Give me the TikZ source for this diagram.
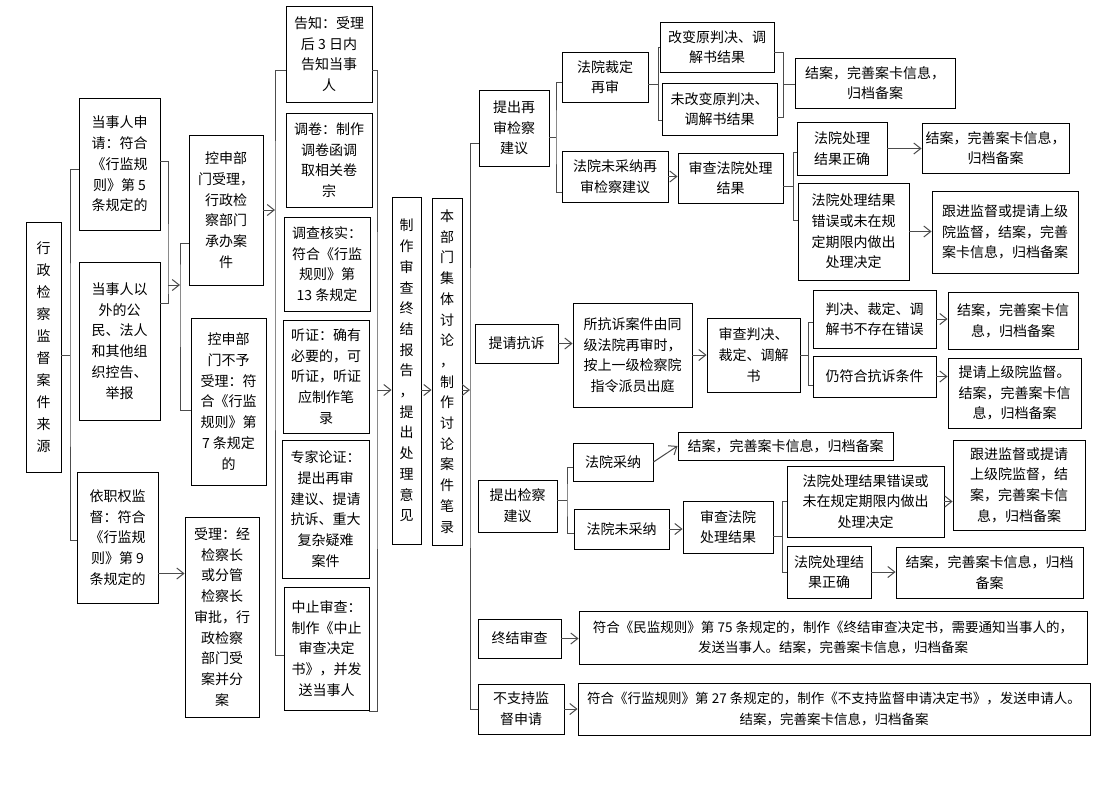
\documentclass[tikz,border=0pt]{standalone}
\usepackage{fontspec}
\setmainfont{Noto Sans CJK SC}
\usetikzlibrary{arrows.meta,calc}
\tikzset{
 bx/.style={draw=black,line width=0.9pt,fill=white,inner sep=0pt,align=center,font=\fontsize{14}{20.7}\selectfont},
 vbx/.style={bx,font=\fontsize{14}{22}\selectfont},
 wbx/.style={bx,font=\fontsize{13.5}{20.7}\selectfont},
 ln/.style={draw=black!70,line width=1pt},
 arr/.style={ln,-{Straight Barb[length=7pt,width=11pt]}},
}
\newcommand\mybox[7][bx]{\node[#1,minimum width=#5pt-#3pt,minimum height=#6pt-#4pt] (#2) at ({(#3+#5)/2},{(#4+#6)/2}) {#7};}
\begin{document}
\begin{tikzpicture}[x=1pt,y=-1pt]
\fill[white] (0,0) rectangle (1118,790);
\useasboundingbox (0,0) rectangle (1118,790);
% boxes
\mybox[vbx]{root}{26}{222}{61}{472}{行\\政\\检\\察\\监\\督\\案\\件\\来\\源}
\mybox{A1}{79}{98}{160}{230}{当事人申\\请：符合\\《行监规\\则》第 5\\条规定的}
\mybox{A2}{79}{262}{160}{420}{当事人以\\外的公\\民、法人\\和其他组\\织控告、\\举报}
\mybox{A3}{77}{472}{158}{603}{依职权监\\督：符合\\《行监规\\则》第 9\\条规定的}
\mybox{B1}{189}{135}{263}{285}{控申部\\门受理，\\行政检\\察部门\\承办案\\件}
\mybox{B2}{191}{318}{266}{485}{控申部\\门不予\\受理：符\\合《行监\\规则》第\\7 条规定\\的}
\mybox{B3}{185}{517}{259}{717}{受理：经\\检察长\\或分管\\检察长\\审批，行\\政检察\\部门受\\案并分\\案}
\mybox{C1}{286}{6}{372}{102}{告知：受理\\后 3 日内\\告知当事\\人}
\mybox{C2}{286}{113}{372}{207}{调卷：制作\\调卷函调\\取相关卷\\宗}
\mybox{C3}{284}{217}{370}{311}{调查核实：\\符合《行监\\规则》第\\13 条规定}
\mybox{C4}{283}{320}{369}{433}{听证：确有\\必要的，可\\听证，听证\\应制作笔\\录}
\mybox{C5}{282}{440}{369}{578}{专家论证：\\提出再审\\建议、提请\\抗诉、重大\\复杂疑难\\案件}
\mybox{C6}{284}{587}{369}{710}{中止审查：\\制作《中止\\审查决定\\书》，并发\\送当事人}
\mybox{D1}{392}{197}{421}{544}{制\\作\\审\\查\\终\\结\\报\\告\\，\\提\\出\\处\\理\\意\\见}
\mybox{E1}{432}{198}{462}{545}{本\\部\\门\\集\\体\\讨\\论\\，\\制\\作\\讨\\论\\案\\件\\笔\\录}
\mybox{F1}{479}{90}{549}{166}{提出再\\审检察\\建议}
\mybox{F2}{475}{324}{558}{363}{提请抗诉}
\mybox{F3}{478}{480}{557}{532}{提出检察\\建议}
\mybox{F4}{478}{619}{561}{658}{终结审查}
\mybox{F5}{478}{684}{564}{734}{不支持监\\督申请}
\mybox{G1}{562}{52}{648}{102}{法院裁定\\再审}
\mybox{G2}{562}{151}{668}{202}{法院未采纳再\\审检察建议}
\mybox{H1}{660}{22}{774}{72}{改变原判决、调\\解书结果}
\mybox{H2}{662}{83}{777}{135}{未改变原判决、\\调解书结果}
\mybox{I1}{795}{58}{955}{108}{结案，完善案卡信息，\\归档备案}
\mybox{H3}{678}{153}{783}{203}{审查法院处理\\结果}
\mybox{I2}{797}{122}{887}{175}{法院处理\\结果正确}
\mybox{I3}{798}{183}{909}{280}{法院处理结果\\错误或未在规\\定期限内做出\\处理决定}
\mybox{J2}{922}{123}{1069}{173}{结案，完善案卡信息，\\归档备案}
\mybox{J3}{932}{191}{1078}{273}{跟进监督或提请上级\\院监督，结案，完善\\案卡信息，归档备案}
\mybox{G3}{573}{303}{692}{407}{所抗诉案件由同\\级法院再审时，\\按上一级检察院\\指令派员出庭}
\mybox{H4}{707}{318}{800}{392}{审查判决、\\裁定、调解\\书}
\mybox{I4}{813}{290}{936}{348}{判决、裁定、调\\解书不存在错误}
\mybox{I5}{813}{356}{936}{397}{仍符合抗诉条件}
\mybox{J4}{948}{292}{1078}{349}{结案，完善案卡信\\息，归档备案}
\mybox{J5}{948}{358}{1081}{428}{提请上级院监督。\\结案，完善案卡信\\息，归档备案}
\mybox{G4}{573}{443}{653}{481}{法院采纳}
\mybox{G5}{574}{509}{669}{549}{法院未采纳}
\mybox{H5}{678}{432}{893}{460}{结案，完善案卡信息，归档备案}
\mybox{H6}{683}{501}{773}{553}{审查法院\\处理结果}
\mybox{I6}{787}{466}{944}{537}{法院处理结果错误或\\未在规定期限内做出\\处理决定}
\mybox{I7}{787}{546}{871}{598}{法院处理结\\果正确}
\mybox{J6}{953}{440}{1085}{530}{跟进监督或提请\\上级院监督，结\\案，完善案卡信\\息，归档备案}
\mybox{J7}{896}{547}{1083}{598}{结案，完善案卡信息，归档\\备案}
\mybox[wbx]{G6}{579}{611}{1087}{664}{符合《民监规则》第 75 条规定的，制作《终结审查决定书，需要通知当事人的，\\发送当事人。结案，完善案卡信息，归档备案}
\mybox[wbx]{G7}{578}{683}{1090}{735}{符合《行监规则》第 27 条规定的，制作《不支持监督申请决定书》，发送申请人。\\结案，完善案卡信息，归档备案}
% joints
\coordinate (k1) at (70,355);
\coordinate (k2) at (168,285);
\coordinate (k3) at (180,285);
\coordinate (k4) at (275,210);
\coordinate (k5) at (377,390);
\coordinate (k6) at (470,390);
\coordinate (k7) at (556,137);
\coordinate (k8) at (658,84);
\coordinate (k9) at (783,84);
\coordinate (k10) at (793,186);
\coordinate (k11) at (808,355);
\coordinate (k12) at (567,500);
\coordinate (k13) at (782,536);
\coordinate (a3o) at ([yshift=-36pt]A3.east);
% connectors
\draw[ln] ([yshift=-8pt]root.east) -- (k1);
\draw[ln] ([yshift=-5pt]A1.west) -| (k1) |- ([yshift=-2.5pt]A3.west);
\draw[ln] ([yshift=3pt]A1.east) -| (k2) |- ([yshift=38pt]A2.east);
\draw[arr] (k2) -- (k3);
\draw[ln] ([yshift=-33pt]B1.west) -| (k3) |- ([yshift=-8.5pt]B2.west);
\draw[arr] (a3o) -- (a3o -| B3.west);
\draw[arr] (B1.east) -- (k4);
\draw[ln] ([yshift=-16pt]C1.west) -| (k4) |- ([yshift=-6.5pt]C6.west);
\draw[ln] ([yshift=-16pt]C1.east) -| (k5) |- ([yshift=-63pt]C6.east);
\draw[arr] (k5) -- (k5 -| D1.west);
\draw[arr] (k5 -| D1.east) -- (k5 -| E1.west);
\draw[arr] (k5 -| E1.east) -- (k6);
\draw[ln] ([yshift=-15pt]F1.west) -| (k6) |- (F5.west);
\draw[ln] ([yshift=-9pt]F1.east) -- (k7);
\draw[ln] ([yshift=-5pt]G1.west) -| (k7) |- ([yshift=-15.5pt]G2.west);
\draw[ln] ([yshift=-7pt]G1.east) -- (k8);
\draw[ln] (H1.west) -| (k8) |- ([yshift=-11pt]H2.west);
\draw[ln] ([yshift=-5pt]H1.east) -| (k9) |- ([yshift=-8pt]H2.east);
\draw[ln] (k9) -- (k9 -| I1.west);
\draw[arr] (G2.east) -- (G2.east -| H3.west);
\draw[ln] ([yshift=-8pt]H3.east) -- (k10);
\draw[ln] ([yshift=-3.5pt]I2.west) -| (k10) |- ([yshift=11.5pt]I3.west);
\draw[arr] (I2.east) -- (I2.east -| J2.west);
\draw[arr] (I3.east) -- (I3.east -| J3.west);
\draw[arr] (F2.east) -- (F2.east -| G3.west);
\draw[arr] (G3.east) -- (G3.east -| H4.west);
\draw[ln] (H4.east) -- (k11);
\draw[ln] ([yshift=-3pt]I4.west) -| (k11) |- ([yshift=-8.5pt]I5.west);
\draw[arr] (I4.east) -- (I4.east -| J4.west);
\draw[arr] (I5.east) -- (I5.east -| J5.west);
\draw[ln] ([yshift=6pt]F3.east) -- (k12);
\draw[ln] ([yshift=-5pt]G4.west) -| (k12) |- ([yshift=-4pt]G5.west);
\draw[arr] (G4.east) -- (H5.west);
\draw[arr] (G5.east) -- (G5.east -| H6.west);
\draw[ln] ([yshift=-9pt]H6.east) -- (k13);
\draw[ln] (I6.west) -| (k13) |- (I7.west);
\draw[arr] (I6.east) -- (I6.east -| J6.west);
\draw[arr] (I7.east) -- (I7.east -| J7.west);
\draw[arr] (F4.east) -- (F4.east -| G6.west);
\draw[arr] (F5.east) -- (F5.east -| G7.west);
\end{tikzpicture}
\end{document}
